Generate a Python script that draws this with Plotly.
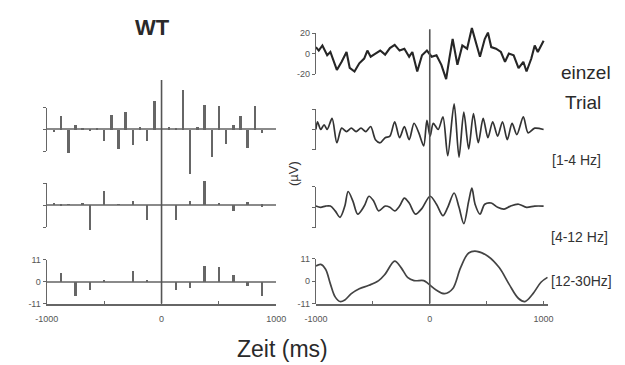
import plotly.graph_objects as go

W, H = 625, 365

# ---------------- data ----------------
# left panel: stem (bar) rows, times in ms
stem_t = [-937.5, -875, -812.5, -750, -687.5, -625, -562.5, -500, -437.5, -375,
          -312.5, -250, -187.5, -125, -62.5, 62.5, 125, 187.5, 250, 312.5,
          375, 437.5, 500, 562.5, 625, 687.5, 750, 812.5, 875]
stem_row1 = [-1.3, 6.8, -11.4, 2.4, 0.8, -0.5, 0.6, -5.7, 7.3, -9.8,
             9.0, -7.6, 1.6, -5.7, 14.6, 1.6, 1.0, 20.0, -22.0, 1.6,
             12.5, -13.8, 12.2, -7.3, 2.4, 6.8, -8.9, 11.9, -1.6]
stem_row2 = [0.6, -0.5, 0.4, 0.0, 0.5, -12.5, 0.0, 7.0, 0.0, 0.4,
             0.0, 1.8, 0.0, -7.6, 0.0, 0.0, -7.6, 0.0, 2.1, 0.0,
             11.9, 0.0, 0.8, 0.0, -2.8, 0.0, 1.3, 0.0, -0.8]
stem_row3 = [0.0, 4.7, 0.0, -7.1, 0.0, -3.9, 0.0, 0.6, 0.0, 0.0,
             0.0, 5.5, 0.0, 0.5, 0.0, 0.0, -3.9, 0.0, -3.1, 0.0,
             7.9, 0.0, 7.5, 0.0, 3.6, 0.0, -2.0, 0.0, -7.1]

# right panel: single trial (raw) in µV
raw_t = [-1000, -975, -943, -901, -873, -816, -774, -731, -703, -661, -619, -576, -548,
         -519, -477, -435, -392, -350, -308, -265, -223, -181, -153, -110, -68, -25,
         17, 59, 102, 144, 172, 201, 243, 286, 328, 370, 413, 441, 483, 511, 540, 582,
         625, 661, 695, 737, 780, 822, 850, 892, 922, 949, 1000]
raw_v = [6.4, 3, 8, -1.6, 1.6, -16, -8, 1.6, -14, -17.5, -9.5, -4.8, 3,
         -3, 0, 3, -1, 5.4, 8.6, 3, 4.8, -3, 1.6, -17.5, -1.6, 3,
         -3, -1.6, -11, -25, -4.8, 14.3, -11, 8, 4.8, 25, 8, -3, 14.3, 20.6, 6.4, 4.8,
         1.6, -8, 0, -1.6, -14.3, -8, -17.5, -4.8, 8, 1.6, 12.7]

# [1-4 Hz]
b1_t = [-1000, -986, -958, -928, -901, -858, -816, -774, -731, -689, -647, -604, -562,
        -519, -477, -435, -392, -350, -308, -265, -223, -181, -138, -96, -53, -25,
        3, 31, 74, 116, 158, 214, 257, 299, 342, 384, 426, 469, 511, 553, 596, 639,
        681, 723, 765, 822, 864, 922, 1000]
b1_v = [0, 7.6, 0, 4.5, 0, 10.8, -13, 1.3, -2, 1.3, -2, 1.3, -2,
        2.9, -10, -13, -8, -6.5, 7.6, -8, 2.9, -10, 6.1, -3.3, -16, 9,
        -6.5, 6, 0, 12.4, -25.7, 25, -27, 17, -19, 15.5, -13, 10.8, -8, 7.6, -6.5, 7.6,
        -10, 6, -5, 12.4, -3.3, 1.3, 0]

# [4-12 Hz]
b2_t = [-1000, -958, -915, -873, -831, -788, -746, -717, -675, -633, -576, -534, -492,
        -449, -392, -350, -308, -265, -223, -181, -125, -68, 3, 59, 116, 158, 214,
        257, 299, 342, 370, 398, 441, 483, 540, 596, 653, 709, 780, 850, 922, 1000]
b2_v = [1.2, 0, 1.2, 1.2, -3.5, -9.8, 1.2, 15.5, 6, -6.7, 1.2, 10.8, 6,
        -3.5, 1.2, 0, -3.5, 1.2, 9, 4.2, -6.7, -1, 10.8, 3, -8.2, 0, 14,
        0, -16, 6, 18.7, 3, -6.7, 3, 4.2, 0, -1.8, 1.2, 3, 0, 1.2, 1.2]

# [12-30 Hz]
b3_t = [-1000, -958, -915, -873, -831, -788, -746, -689, -619, -534, -449, -392, -308,
        -252, -195, -138, -53, -11, 59, 130, 201, 271, 342, 413, 511, 610, 695, 780,
        836, 907, 977, 1034]
b3_v = [7.5, 8.3, 5.9, -1.3, -7.7, -10, -9.2, -6.1, -3.7, -2, 0.3, 3.5, 9.9,
        6.7, 1.9, 0.3, 0.3, -1.3, -4.4, -6.1, -3.7, 6.7, 13.9, 14.7, 12.3, 6.7, -1.3, -8.5,
        -10, -6.1, -0.5, 1.9]

x_tickvals = [-1000, -500, 0, 500, 1000]
x_ticktext = ["-1000", "", "0", "", "1000"]

# ---------------- helpers ----------------
def dom(base, scale, rng):
    top = base - rng[1] * scale
    bottom = base - rng[0] * scale
    return [1 - bottom / H, 1 - top / H]

FONT = "Liberation Sans, Arial, sans-serif"
AXC = "#666666"
TICKF = dict(family=FONT, size=9, color="#555555")

fig = go.Figure()

bar_style = dict(width=17, marker_color="#666666", marker_line_width=0, hoverinfo="skip")
fig.add_trace(go.Bar(x=stem_t, y=stem_row1, xaxis="x", yaxis="y", **bar_style))
fig.add_trace(go.Bar(x=stem_t, y=stem_row2, xaxis="x", yaxis="y2", **bar_style))
fig.add_trace(go.Bar(x=stem_t, y=stem_row3, xaxis="x", yaxis="y3", **bar_style))

fig.add_trace(go.Scatter(x=raw_t, y=raw_v, xaxis="x2", yaxis="y7", mode="lines",
                         line=dict(color="#262626", width=2.1), hoverinfo="skip"))
fig.add_trace(go.Scatter(x=b1_t, y=b1_v, xaxis="x2", yaxis="y8", mode="lines",
                         line=dict(color="#333333", width=1.7, shape="spline", smoothing=0.8),
                         hoverinfo="skip"))
fig.add_trace(go.Scatter(x=b2_t, y=b2_v, xaxis="x2", yaxis="y9", mode="lines",
                         line=dict(color="#3a3a3a", width=1.7, shape="spline", smoothing=0.9),
                         hoverinfo="skip"))
fig.add_trace(go.Scatter(x=b3_t, y=b3_v, xaxis="x2", yaxis="y10", mode="lines",
                         line=dict(color="#444444", width=1.7, shape="spline", smoothing=1.0),
                         hoverinfo="skip"))

# empty traces so display-only axes get drawn
for xa, ya in [("x", "y4"), ("x", "y5"), ("x2", "y11"), ("x2", "y12"), ("x2", "y13"), ("x2", "y14")]:
    fig.add_trace(go.Scatter(x=[None], y=[None], xaxis=xa, yaxis=ya, mode="lines",
                             hoverinfo="skip"))

hidden = dict(showline=False, showticklabels=False, ticks="", showgrid=False, fixedrange=True)
left_zero = dict(zeroline=True, zerolinecolor="#8a8a8a", zerolinewidth=1.5)

def disp(domain, rng, anchor, tickvals, ticktext=None, ticklen=3):
    d = dict(domain=domain, range=rng, anchor=anchor, showline=True, linecolor=AXC,
             linewidth=1.4, ticks="outside", ticklen=ticklen, tickcolor=AXC, tickwidth=1,
             tickvals=tickvals, showgrid=False, zeroline=False, fixedrange=True,
             tickfont=TICKF)
    if ticktext is None:
        d["showticklabels"] = False
    else:
        d["ticktext"] = ticktext
    return d

LS = 2.05   # px per unit, left rows
RS = 1.05   # px per µV, right rows 1-3
RS4 = 2.09  # px per unit, right row 4

L1r, L2r, L3r = [-23, 21], [-13, 13], [-11, 11]
R1r, R2r, R3r, R4r = [-27, 27], [-29, 27], [-21, 21], [-11, 16]

xcommon = dict(showline=True, linecolor=AXC, linewidth=1.5, ticks="inside", ticklen=3,
               tickcolor=AXC, tickvals=x_tickvals, ticktext=x_ticktext, tickfont=TICKF,
               ticklabelstandoff=6, showgrid=False, zeroline=False, fixedrange=True)

fig.update_layout(
    width=W, height=H, margin=dict(l=0, r=0, t=0, b=0),
    paper_bgcolor="white", plot_bgcolor="rgba(0,0,0,0)", showlegend=False, bargap=0,
    font=dict(family=FONT, color="#333333"),
    xaxis=dict(domain=[36 / W, 274 / W], range=[-1000, 1000], anchor="y3", **xcommon),
    xaxis2=dict(domain=[315 / W, (433 + 1040 * 0.118) / W], range=[-1000, 1040],
                anchor="y10", **xcommon),
    # left data axes
    yaxis=dict(domain=dom(128, LS, L1r), range=L1r, anchor="x", **hidden, **left_zero),
    yaxis2=dict(domain=dom(206, LS, L2r), range=L2r, anchor="x", **hidden, **left_zero),
    yaxis3=dict(disp(dom(284.5, LS, L3r), L3r, "x", [-11, 0, 11], ["-11", "0", "11"]),
                **dict(zeroline=True, zerolinecolor="#8a8a8a", zerolinewidth=1.5)),
    # left display axes
    yaxis4=disp(dom(128, LS, [-11, 11]), [-11, 11], "x", [-11, 0, 11]),
    yaxis5=disp(dom(206, LS, [-11, 11]), [-11, 11], "x", [-11, 0, 11]),
    # right data axes
    yaxis7=dict(domain=dom(50, RS, R1r), range=R1r, anchor="x2", zeroline=False, **hidden),
    yaxis8=dict(domain=dom(128, RS, R2r), range=R2r, anchor="x2", zeroline=False, **hidden),
    yaxis9=dict(domain=dom(208, RS, R3r), range=R3r, anchor="x2", zeroline=False, **hidden),
    yaxis10=dict(domain=dom(284, RS4, R4r), range=R4r, anchor="x2", zeroline=False, **hidden),
    # right display axes
    yaxis11=disp(dom(50, RS, [-20, 20]), [-20, 20], "x2", [-20, 0, 20], ["-20", "0", "20"]),
    yaxis12=disp(dom(128, RS, [-20, 20]), [-20, 20], "x2", [-20, 0, 20]),
    yaxis13=disp(dom(208, RS, [-20, 20]), [-20, 20], "x2", [-20, 0, 20]),
    yaxis14=disp(dom(284, RS4, [-11, 11]), [-11, 11], "x2", [-11, 0, 11], ["-11", "0", "11"]),
)

# stimulus-onset lines at t = 0
fig.add_shape(type="line", xref="x", yref="paper", x0=0, x1=0,
              y0=1 - 307 / H, y1=1 - 77 / H, line=dict(color="#555555", width=1.6))
fig.add_shape(type="line", xref="x2", yref="paper", x0=0, x1=0,
              y0=1 - 307 / H, y1=1 - 25 / H, line=dict(color="#555555", width=1.6))

def ann(text, px, py, size, color="#333333", angle=0):
    fig.add_annotation(text=text, x=px / W, y=1 - py / H, xref="paper", yref="paper",
                       showarrow=False, textangle=angle, xanchor="center", yanchor="middle",
                       font=dict(family=FONT, size=size, color=color))

ann("<b>WT</b>", 146, 23, 22, "#2a2a2a")
ann("Zeit (ms)", 280, 354, 23, "#2a2a2a")
ann("einzel", 595, 69, 19, "#2a2a2a")
ann("Trial", 592, 100, 19, "#2a2a2a")
ann("[1-4 Hz]", 585, 159, 14)
ann("[4-12 Hz]", 588, 239, 14)
ann("[12-30Hz]", 590, 284, 14)
ann("(µV)", 292, 173, 13, angle=-90)

fig.write_html("out.html")
